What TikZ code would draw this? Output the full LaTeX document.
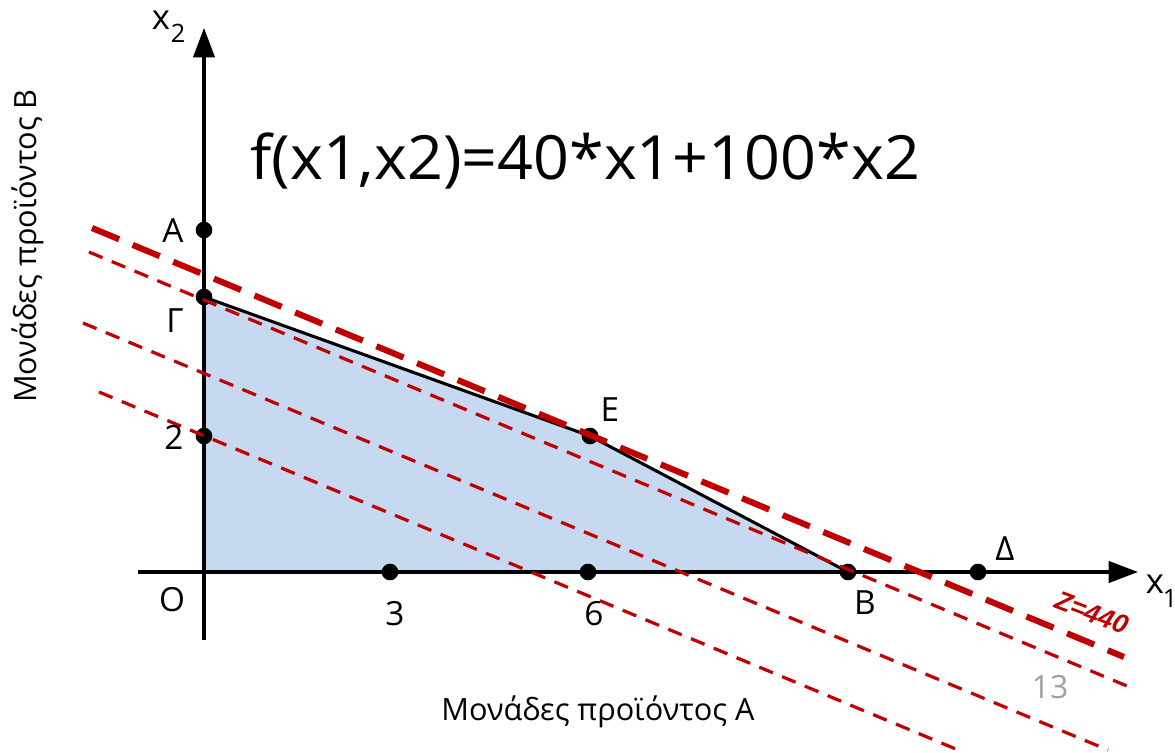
\documentclass[tikz,border=0pt]{standalone}
\usepackage{fontspec}
\setmainfont{Open Sans}
\newfontfamily\zfont{Liberation Sans}
\usetikzlibrary{arrows.meta}
\definecolor{zred}{HTML}{C00000}
\definecolor{feas}{HTML}{C6D9F0}
\definecolor{pagegray}{HTML}{A0A0A0}
\begin{document}
\begin{tikzpicture}[x=0.75pt,y=-0.75pt,
  axis/.style={line width=2.3pt,-{Triangle[length=22pt,width=16pt]}},
  dot/.style={circle,fill=black,inner sep=0pt,minimum size=12.5pt},
  lbl/.style={font=\fontsize{25}{28}\selectfont,inner sep=0pt},
  isoline/.style={zred,line width=2.4pt,dash pattern=on 11pt off 7.5pt},
  zline/.style={zred,line width=4.6pt,dash pattern=on 22pt off 11pt},
  edge/.style={line width=2.3pt}
]
\useasboundingbox (0,0) rectangle (1175,753);
% feasible region corners
\coordinate (O) at (204,572);
\coordinate (Gc) at (204,297);
\coordinate (Ec) at (590,436);
\coordinate (Bc) at (848,572);
\fill[feas] (O) -- (Gc) -- (Ec) -- (Bc) -- cycle;
\draw[edge] (Gc) -- (Ec) -- (Bc);
% axes
\coordinate (ybot) at (204,640);
\coordinate (ytop) at (204,28);
\coordinate (xleft) at (138,572);
\coordinate (xright) at (1138,572);
\draw[axis] (ybot) -- (ytop);
\draw[axis] (xleft) -- (xright);
% dots
\node[dot] (A) at (204,230) {};
\node[dot] (G) at (Gc) {};
\node[dot] (two) at (204,436) {};
\node[dot] (E) at (Ec) {};
\node[dot] (B) at (Bc) {};
\node[dot] (D) at (978,572) {};
\node[dot] (three) at (390,572) {};
\node[dot] (six) at (588,572) {};
% iso-profit lines
\coordinate (z1a) at (92,228);  \coordinate (z1b) at (1124,657);
\coordinate (l2a) at (89,252);  \coordinate (l2b) at (1127,686);
\coordinate (l3a) at (83,323);  \coordinate (l3b) at (1108,750);
\coordinate (l4a) at (99,392);  \coordinate (l4b) at (963,752);
\draw[isoline] (l2a) -- (l2b);
\draw[isoline] (l3a) -- (l3b);
\draw[isoline] (l4a) -- (l4b);
\draw[zline] (z1a) -- (z1b);
% labels
\node[lbl] (Alab) at (173,231) {A};
\node[lbl] (Glab) at (175,321) {Γ};
\node[lbl] (twolab) at (174,437) {2};
\node[lbl] (Elab) at (610,410) {E};
\node[lbl] (Blab) at (865,603) {B};
\node[lbl] (Dlab) at (1005,549) {Δ};
\node[lbl] (Olab) at (172,600) {O};
\node[lbl] (threelab) at (395,614) {3};
\node[lbl] (sixlab) at (594,614) {6};
\node[font=\fontsize{26}{28}\selectfont,inner sep=0pt] (x2x) at (161,20) {x};
\node[font=\fontsize{19}{20}\selectfont,inner sep=0pt] (x2s) at (178,33) {2};
\node[font=\fontsize{26}{28}\selectfont,inner sep=0pt] (x1x) at (1155,584) {x};
\node[font=\fontsize{19}{20}\selectfont,inner sep=0pt] (x1s) at (1170,598) {1};
\node[inner sep=0pt,anchor=base] (title) at (585,179) {\resizebox{502pt}{35pt}{f(x1,x2)=40*x1+100*x2}};
\node[lbl,font=\fontsize{23}{26}\selectfont] (xlab) at (598,712) {Μονάδες προϊόντος A};
\node[lbl,font=\fontsize{23}{26}\selectfont,rotate=90] (ylab) at (28,246) {Μονάδες προϊόντος B};
\node[text=zred,font=\zfont\bfseries\itshape\fontsize{20}{24}\selectfont,rotate=-21,inner sep=0pt] (zlab) at (1092,613) {Z=440};
\node[text=pagegray,font=\fontsize{24}{26}\selectfont,inner sep=0pt] (page) at (1050,687) {13};
\end{tikzpicture}
\end{document}
